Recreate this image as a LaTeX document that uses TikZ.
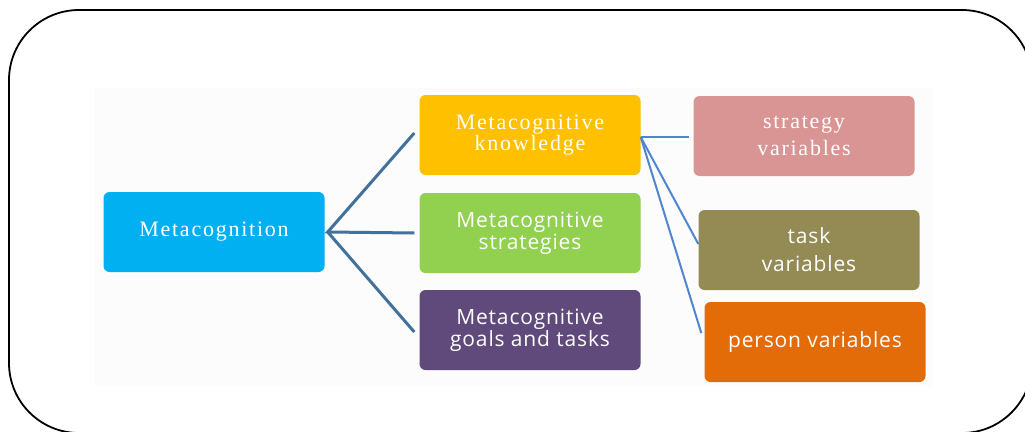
\documentclass[tikz,border=0pt]{standalone}
\usepackage{fontspec}
\setmainfont{Liberation Serif}
\setsansfont{Open Sans}
\newfontfamily\boxserif[LetterSpace=8]{Liberation Serif}
\newfontfamily\boxsans[LetterSpace=4]{Open Sans}
\usepackage{tikz}

\definecolor{metablue}{HTML}{00B0F0}
\definecolor{knowyellow}{HTML}{FFC000}
\definecolor{stratgreen}{HTML}{92D050}
\definecolor{goalpurple}{HTML}{604A7B}
\definecolor{varpink}{HTML}{D99594}
\definecolor{varolive}{HTML}{948A54}
\definecolor{varorange}{HTML}{E36C09}
\definecolor{linkdark}{HTML}{41719C}
\definecolor{linklight}{HTML}{4F86D0}

\begin{document}
\begin{tikzpicture}[x=1pt, y=-1pt,
    box/.style={rounded corners=6pt, minimum width=221pt, minimum height=80pt,
      text=white, align=center, inner sep=0pt},
    serifbox/.style={box, font=\boxserif\fontsize{22}{23}\selectfont},
    sansbox/.style={box, font=\boxsans\fontsize{21}{22}\selectfont},
    mainlink/.style={linkdark, line width=3pt},
    sublink/.style={linklight, line width=2pt}]
                % Frame and backdrop
                \useasboundingbox (0,0) rectangle (1025,431);
                \clip (0,0) rectangle (1025,431);
                \draw[line width=1.8pt, rounded corners=70pt] (9,10) rectangle (1032,433);
                \fill[black!1] (95,88) rectangle (933,386);

                % Draw the boxes
                \node[serifbox, fill=metablue] (meta) at (214,232) {Metacognition};
                \node[serifbox, fill=knowyellow] (know) at (530,135) {Metacognitive\\[-2pt]knowledge};
                \node[sansbox, fill=stratgreen] (strat) at (530,233) {Metacognitive\\strategies};
                \node[sansbox, fill=goalpurple] (goals) at (530,330) {Metacognitive\\goals and tasks};
                \node[serifbox, fill=varpink] (stratvar) at (804,136) {strategy\\[4pt]variables};
                \node[sansbox, fill=varolive] (taskvar) at (809,250) {task\\[6pt]variables};
                \node[sansbox, fill=varorange] (personvar) at (815,342) {person variables};

                % Draw the links
                \coordinate (hub) at ([xshift=3pt]meta.east);
                \coordinate (knowhub) at ([yshift=-2pt]know.east);
                \draw[mainlink] ([xshift=-5pt, yshift=2pt]know.west) -- (hub) -- ([xshift=-5pt]strat.west);
                \draw[mainlink] (hub) -- ([xshift=-5pt, yshift=-2pt]goals.west);
                \draw[sublink] (knowhub) -- ([xshift=-4pt, yshift=-1pt]stratvar.west);
                \draw[sublink] (knowhub) -- ([yshift=6pt]taskvar.west);
                \draw[sublink] (knowhub) -- ([xshift=-3pt, yshift=9pt]personvar.west);
              \end{tikzpicture}
\end{document}
